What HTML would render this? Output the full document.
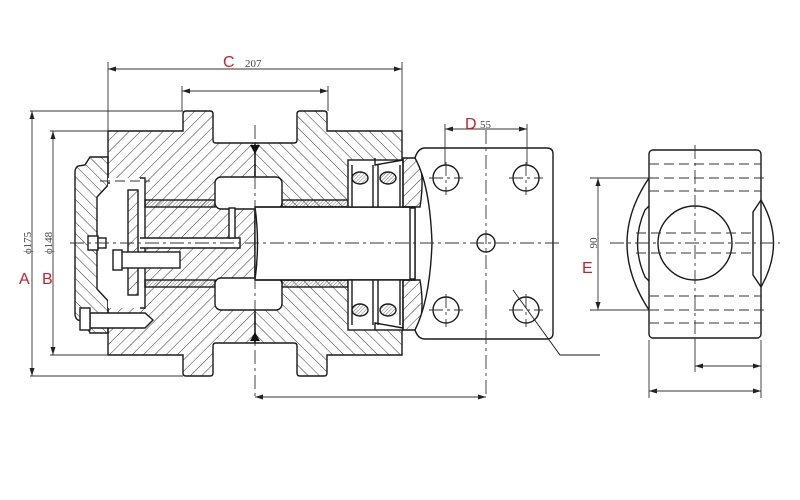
<!DOCTYPE html>
<html><head><meta charset="utf-8"><style>html,body{margin:0;padding:0;background:#fff}svg{display:block}</style></head>
<body>
<svg width="800" height="500" viewBox="0 0 800 500" xmlns="http://www.w3.org/2000/svg" font-family="Liberation Serif, serif">
<defs>
<pattern id="h" width="8" height="8" patternUnits="userSpaceOnUse" patternTransform="rotate(45)"><line x1="0" y1="0" x2="0" y2="8" stroke="#333" stroke-width="1"/></pattern>
<pattern id="h2" width="8" height="8" patternUnits="userSpaceOnUse" patternTransform="rotate(-45)"><line x1="0" y1="0" x2="0" y2="8" stroke="#333" stroke-width="1"/></pattern>
<pattern id="hd" width="2.5" height="2.5" patternUnits="userSpaceOnUse" patternTransform="rotate(45)"><line x1="0" y1="0" x2="0" y2="2.5" stroke="#333" stroke-width="0.7"/></pattern>
<marker id="a" markerWidth="8" markerHeight="6" refX="8" refY="3" orient="auto-start-reverse" markerUnits="userSpaceOnUse"><path d="M0,0.5 L8,3 L0,5.5 Z" fill="#222"/></marker>
</defs>
<g stroke="#1a1a1a" stroke-width="1.4" fill="none">
<path fill="url(#h)" d="M108,131 L183,131 L183,114 Q183,111 186,111 L210,111 Q213,111 213,114 L213,140 Q213,143 216,143 L255,143 L255,343 L216,343 Q213,343 213,346 L213,373 Q213,376 210,376 L186,376 Q183,376 183,373 L183,355 L108,355 Z"/>
<path fill="url(#h2)" d="M255,143 L294,143 Q297,143 297,140 L297,114 Q297,111 300,111 L324,111 Q327,111 327,114 L327,131 L402,131 L402,355 L327,355 L327,373 Q327,376 324,376 L300,376 Q297,376 297,373 L297,346 Q297,343 294,343 L255,343 Z"/>
<path fill="url(#h2)" d="M108,157 L90,157 L85,165 L78,166 Q75,168 75,172 L75,314 Q75,318 78,320 L85,322 L90,333 L108,333 Z"/>
<path fill="#fff" d="M97,197 L110,183 L140,183 L140,303 L110,303 L97,289 Z"/>
<rect x="108" y="178" width="37" height="130" fill="#fff" stroke="none"/>
<path d="M108,183 L110,183 M140,178 L145,178 L145,308 L140,308"/>
<rect x="128" y="190" width="10" height="105" fill="url(#h)"/>
<rect x="145" y="200" width="70" height="7" fill="url(#hd)"/>
<rect x="145" y="280" width="70" height="7" fill="url(#hd)"/>
<rect x="282" y="200" width="66" height="7" fill="url(#hd)"/>
<rect x="282" y="280" width="66" height="7" fill="url(#hd)"/>
<rect x="215" y="177" width="67" height="32" rx="6" fill="#fff"/>
<rect x="215" y="278" width="67" height="32" rx="6" fill="#fff"/>
<rect x="255" y="207" width="160" height="73" fill="#fff"/>
<path d="M255,207 L415,207 M255,280 L415,280"/>
<path d="M255,207 Q260,243 255,280"/>
<rect x="410" y="208" width="5" height="71" fill="#fff"/>
<path d="M140,238 L240,238 L240,248 L140,248" fill="#fff"/>
<rect x="229" y="208" width="6" height="30" fill="#fff"/>
<rect x="120" y="252" width="60" height="16" fill="#fff"/>
<rect x="113" y="250" width="9" height="20" fill="#fff"/>
<rect x="88" y="236" width="10" height="14" fill="#fff"/>
<rect x="98" y="238" width="8" height="10" fill="#fff"/>
<path d="M90,313 L145,313 L153,320 L145,328 L90,328 Z" fill="#fff"/>
<rect x="80" y="308" width="10" height="22" fill="#fff"/>
<rect x="348" y="160" width="55" height="47" fill="#fff"/>
<rect x="348" y="280" width="55" height="50" fill="#fff"/>
<path d="M352,165 L352,207 M373,165 L373,207 M378,165 L378,207 M400,165 L400,207 M352,280 L352,325 M373,280 L373,325 M378,280 L378,325 M400,280 L400,325"/>
<ellipse cx="360" cy="178" rx="8" ry="6" fill="url(#hd)"/>
<ellipse cx="388" cy="178" rx="8" ry="6" fill="url(#hd)"/>
<ellipse cx="360" cy="310" rx="8" ry="6" fill="url(#hd)"/>
<ellipse cx="388" cy="310" rx="8" ry="6" fill="url(#hd)"/>
<path d="M375,158 L375,165 L403,160 M375,330 L375,323 L403,328"/>
<path fill="url(#h)" d="M403,158 L418,158 Q425,175 420,207 L403,207 Z"/>
<path fill="url(#h)" d="M403,280 L420,280 Q425,310 418,330 L403,330 Z"/>
<path fill="#fff" d="M425,148 L547,148 Q553,148 553,154 L553,333 Q553,339 547,339 L425,339 Q418,339 415,330 Q430,300 432,243 Q430,185 415,158 Q418,148 425,148 Z"/>
<circle cx="446" cy="178" r="13"/><circle cx="526" cy="178" r="13"/>
<circle cx="446" cy="310" r="13"/><circle cx="526" cy="310" r="13"/>
<circle cx="486" cy="243" r="9"/>
<path d="M513,290 L560,355 L600,355" stroke-width="0.9"/>
<rect x="649" y="150" width="112" height="188" rx="4" fill="#fff"/>
<circle cx="695" cy="243" r="37"/>
<path d="M649,178 Q605,243 649,310"/>
<path d="M649,206 L645,210 Q630,243 645,277 L649,281"/>
<path d="M761,200 Q786,243 761,287 M761,200 L753,212 L753,275 L761,287"/>
</g>
<g stroke="#333" stroke-width="0.9" fill="none" stroke-dasharray="14,4,3,4">
<path d="M70,243 L560,243 M255,125 L255,400 M486,130 L486,395 M429,178 L463,178 M509,178 L543,178 M429,310 L463,310 M509,310 L543,310 M446,162 L446,195 M526,162 L526,195 M446,294 L446,327 M526,294 L526,327"/>
<path d="M610,243 L780,243 M695,145 L695,345"/>
</g>
<g stroke="#333" stroke-width="0.9" fill="none" stroke-dasharray="10,5">
<path d="M649,164 L761,164 M649,191 L761,191 M649,296 L761,296 M649,323 L761,323 M649,178 L768,178 M649,310 L768,310 M636,233 L753,233 M636,253 L753,253"/>
<path d="M100,181 L150,181"/>
</g>
<path d="M250,145 L260,145 L255,154 Z M250,341 L260,341 L255,332 Z" fill="#111"/>
<g stroke="#333" stroke-width="0.9" fill="none">
<path d="M108,131 L108,62 M402,131 L402,62 M182,111 L182,86 M328,111 L328,86"/>
<path d="M30,111 L183,111 M30,376 L183,376 M50,131 L108,131 M50,355 L108,355"/>
<path d="M445,165 L445,124 M527,165 L527,124"/>
<path d="M590,178 L649,178 M590,310 L649,310 M649,340 L649,398 M761,340 L761,398 M695,340 L695,372"/>
<path d="M108,69 L402,69" marker-start="url(#a)" marker-end="url(#a)"/>
<path d="M182,91 L328,91" marker-start="url(#a)" marker-end="url(#a)"/>
<path d="M32,111 L32,376" marker-start="url(#a)" marker-end="url(#a)"/>
<path d="M53,131 L53,355" marker-start="url(#a)" marker-end="url(#a)"/>
<path d="M255,397 L486,397" marker-start="url(#a)" marker-end="url(#a)"/>
<path d="M445,129 L527,129" marker-start="url(#a)" marker-end="url(#a)"/>
<path d="M598,178 L598,310" marker-start="url(#a)" marker-end="url(#a)"/>
<path d="M695,366 L761,366" marker-start="url(#a)" marker-end="url(#a)"/>
<path d="M649,391 L761,391" marker-start="url(#a)" marker-end="url(#a)"/>
</g>
<g fill="#444" font-size="11">
<text x="245" y="67">207</text>
<text x="480" y="128">55</text>
<text transform="translate(31,243) rotate(-90)" text-anchor="middle">ϕ175</text>
<text transform="translate(52,243) rotate(-90)" text-anchor="middle">ϕ148</text>
<text transform="translate(597,243) rotate(-90)" text-anchor="middle">90</text>
</g>
<g fill="#c8202a" font-family="Liberation Sans, sans-serif" font-size="16">
<text x="223" y="67">C</text>
<text x="465" y="129">D</text>
<text x="19" y="284">A</text>
<text x="42" y="284">B</text>
<text x="582" y="273">E</text>
</g>
</svg>
</body></html>
